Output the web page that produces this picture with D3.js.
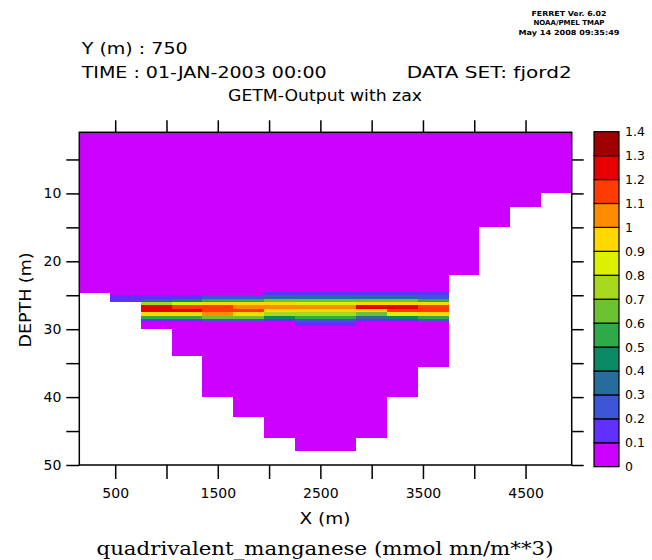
<!DOCTYPE html>
<html>
<head>
<meta charset="utf-8">
<script src="https://cdn.jsdelivr.net/npm/d3@7"></script>
<style>
  body { margin: 0; background: #fff; }
  svg text { font-family: "DejaVu Sans", sans-serif; fill: #000; }
</style>
</head>
<body>
<div id="chart"></div>
<script>
// Ferret-style vertical section: Mn(IV) along the fjord at Y = 750 m.

const width = 652;
const height = 560;

// grid cell centres along x (m)
const xCenters = [300, 600, 900, 1200, 1500, 1800, 2100, 2400, 2700, 3000, 3300, 3600, 3900, 4200, 4500, 4800];
// water depth of every column (m)
const bottomDepth = [24.7, 26, 30, 34, 40, 43, 46, 48, 48, 46, 40, 35.5, 22, 15, 12, 10];
// tops of the thin layers that hold the manganese band (m), 0.5 m thick
const layerTops = [24.5, 25, 25.5, 26, 26.5, 27, 27.5, 28, 28.5, 29];
// band values, one row per column, one entry per layer
const bandValues = [
  [0, 0, 0, 0, 0, 0, 0, 0, 0, 0],
  [0, 0.15, 0.15, 0, 0, 0, 0, 0, 0, 0],
  [0, 0.15, 0.35, 0.75, 1.25, 1.25, 0.95, 0.5, 0.15, 0],
  [0, 0.15, 0.45, 0.85, 1.15, 1.25, 0.95, 0.55, 0.15, 0],
  [0, 0.2, 0.5, 0.9, 1.1, 1.15, 1.05, 0.65, 0.25, 0],
  [0, 0.25, 0.55, 0.95, 1.05, 1.1, 0.95, 0.6, 0.2, 0],
  [0.15, 0.35, 0.65, 0.95, 1.05, 0.95, 0.75, 0.45, 0.15, 0],
  [0.15, 0.3, 0.6, 0.85, 1.05, 0.95, 0.75, 0.5, 0.25, 0.15],
  [0.15, 0.3, 0.6, 0.85, 1.05, 0.95, 0.75, 0.5, 0.25, 0.15],
  [0.15, 0.35, 0.65, 0.95, 1.25, 0.95, 0.65, 0.35, 0.15, 0],
  [0.15, 0.3, 0.6, 0.95, 1.25, 1.15, 0.85, 0.45, 0.15, 0],
  [0.1, 0.25, 0.5, 0.9, 1.15, 1.1, 0.9, 0.5, 0.2, 0],
  [0, 0, 0, 0, 0, 0, 0, 0, 0, 0],
  [0, 0, 0, 0, 0, 0, 0, 0, 0, 0],
  [0, 0, 0, 0, 0, 0, 0, 0, 0, 0],
  [0, 0, 0, 0, 0, 0, 0, 0, 0, 0]
];

// colour key
const levels = [0, 0.1, 0.2, 0.3, 0.4, 0.5, 0.6, 0.7, 0.8, 0.9, 1, 1.1, 1.2, 1.3, 1.4];
const levelLabels = ["0", "0.1", "0.2", "0.3", "0.4", "0.5", "0.6", "0.7", "0.8", "0.9", "1", "1.1", "1.2", "1.3", "1.4"];
const levelColors = ["#cc00ff", "#6030ff", "#3d55d8", "#266c9c", "#0a8a64", "#2eaa48", "#6cc230",
                     "#a8d81c", "#dcf000", "#ffd800", "#ff8c00", "#ff3c00", "#e60000", "#a00000"];

const xTicks = [500, 1000, 1500, 2000, 2500, 3000, 3500, 4000, 4500];
const depthTicks = [5, 10, 15, 20, 25, 30, 35, 40, 45, 50];

const plot = { left: 79.3, right: 571.7, top: 132.3, bottom: 465 };
const TOPDEPTH = 1;

function main() {
  const svg = d3.select("#chart")
    .append("svg")
    .attr("width", width)
    .attr("height", height);

  const dx = xCenters[1] - xCenters[0];
  const x = d3.scaleLinear()
    .domain([xCenters[0] - dx / 2, xCenters[xCenters.length - 1] + dx / 2])
    .range([plot.left, plot.right]);
  const y = d3.scaleLinear()
    .domain([TOPDEPTH, 50])
    .range([plot.top, plot.bottom]);
  const color = d3.scaleThreshold()
    .domain(levels.slice(1, -1))
    .range(levelColors);

  const cells = svg.append("g").attr("shape-rendering", "crispEdges");

  // water columns, all near zero
  cells.selectAll("rect.col")
    .data(xCenters)
    .join("rect")
    .attr("class", "col")
    .attr("x", d => x(d - dx / 2))
    .attr("width", d => x(d + dx / 2) - x(d - dx / 2))
    .attr("y", y(TOPDEPTH))
    .attr("height", (d, i) => y(bottomDepth[i]) - y(TOPDEPTH))
    .attr("fill", color(0));

  // the band
  const band = [];
  bandValues.forEach((row, i) => {
    row.forEach((v, j) => {
      const top = layerTops[j];
      const bot = Math.min(top + 0.5, bottomDepth[i]);
      if (v >= 0.1 && top < bot) band.push({ xc: xCenters[i], top, bot, v });
    });
  });
  cells.selectAll("rect.band")
    .data(band)
    .join("rect")
    .attr("class", "band")
    .attr("x", d => x(d.xc - dx / 2))
    .attr("width", d => x(d.xc + dx / 2) - x(d.xc - dx / 2))
    .attr("y", d => y(d.top))
    .attr("height", d => y(d.bot) - y(d.top))
    .attr("fill", d => color(d.v));

  // axes, ticks point outwards like Ferret
  const styleAxis = g => {
    g.select(".domain").remove();
    g.selectAll("line").attr("stroke", "#000").attr("stroke-width", 1.5);
    g.selectAll("text").style("font-size", "14px").attr("fill", "#000");
  };
  svg.append("g")
    .attr("transform", `translate(0,${plot.bottom})`)
    .call(d3.axisBottom(x).tickValues(xTicks).tickSize(14).tickPadding(9)
      .tickFormat(d => (d % 1000 === 500 ? d : "")))
    .call(styleAxis);
  svg.append("g")
    .attr("transform", `translate(0,${plot.top})`)
    .call(d3.axisTop(x).tickValues(xTicks).tickSize(12).tickFormat(""))
    .call(styleAxis);
  svg.append("g")
    .attr("transform", `translate(${plot.left},0)`)
    .call(d3.axisLeft(y).tickValues(depthTicks).tickSize(13).tickPadding(5)
      .tickFormat(d => (d % 10 === 0 ? d : "")))
    .call(styleAxis);
  svg.append("g")
    .attr("transform", `translate(${plot.right},0)`)
    .call(d3.axisRight(y).tickValues(depthTicks).tickSize(12).tickFormat(""))
    .call(styleAxis);

  svg.append("rect")
    .attr("x", plot.left)
    .attr("y", plot.top)
    .attr("width", plot.right - plot.left)
    .attr("height", plot.bottom - plot.top)
    .attr("fill", "none")
    .attr("stroke", "#000")
    .attr("stroke-width", 1.5);

  // colour bar
  const cb = d3.scaleLinear().domain([0, 1.4]).range([466.7, 131.7]);
  const bar = svg.append("g");
  bar.selectAll("rect")
    .data(levelColors)
    .join("rect")
    .attr("x", 594)
    .attr("width", 25)
    .attr("y", (d, i) => cb(levels[i + 1]))
    .attr("height", (d, i) => cb(levels[i]) - cb(levels[i + 1]))
    .attr("fill", d => d)
    .attr("stroke", "#000")
    .attr("stroke-width", 1.2);
  bar.selectAll("text")
    .data(levelLabels)
    .join("text")
    .attr("x", 625)
    .attr("y", (d, i) => cb(levels[i]) + 4.5)
    .style("font-size", "12.5px")
    .text(d => d);

  // header
  const txt = (s, xx, yy, size, anchor, len) => {
    const t = svg.append("text")
      .attr("x", xx).attr("y", yy)
      .attr("text-anchor", anchor)
      .style("font-size", size + "px")
      .text(s);
    if (len) t.attr("textLength", len).attr("lengthAdjust", "spacingAndGlyphs");
    return t;
  };
  txt("Y (m) : 750", 81.7, 53.5, 15, "start", 106);
  txt("TIME : 01-JAN-2003 00:00", 81.7, 77.7, 15, "start", 245);
  txt("DATA SET: fjord2", 571.7, 77.7, 15, "end", 165);
  txt("GETM-Output with zax", 325, 101, 15, "middle", 194);

  txt("FERRET Ver. 6.02", 569, 16, 7, "middle", 75).style("font-weight", "bold");
  txt("NOAA/PMEL TMAP", 569, 25, 7, "middle", 71).style("font-weight", "bold");
  txt("May 14 2008 09:35:49", 569, 34.5, 7, "middle", 101).style("font-weight", "bold");

  txt("X (m)", 325, 524, 15, "middle", 51);
  svg.append("text")
    .attr("transform", "translate(31,300) rotate(-90)")
    .attr("text-anchor", "middle")
    .attr("textLength", 95)
    .attr("lengthAdjust", "spacingAndGlyphs")
    .style("font-size", "15px")
    .text("DEPTH (m)");

  svg.append("text")
    .attr("x", 325)
    .attr("y", 555)
    .attr("text-anchor", "middle")
    .attr("textLength", 457)
    .attr("lengthAdjust", "spacingAndGlyphs")
    .style("font-family", "'DejaVu Serif', serif")
    .style("font-size", "19px")
    .text("quadrivalent_manganese (mmol mn/m**3)");
}

main();
</script>
</body>
</html>
